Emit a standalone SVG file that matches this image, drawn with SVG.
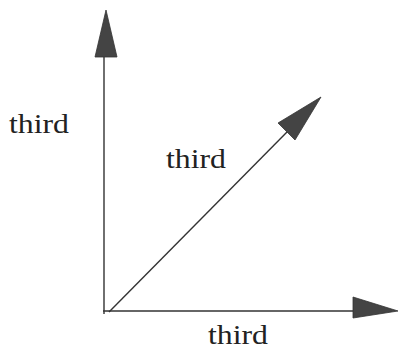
<svg xmlns="http://www.w3.org/2000/svg" width="399" height="351" viewBox="0 0 399 351">
<style>
.ax{stroke:#333;stroke-width:1.4;fill:none}
.hd{fill:#444;stroke:#333;stroke-width:0.8}
.lb{font-family:"Liberation Serif",serif;font-size:27px;fill:#222}
</style>
<rect width="399" height="351" fill="#fff"/>
<g id="connectors">
<line class="ax" x1="104" y1="314" x2="104" y2="55"/>
<polygon class="hd" points="106,10 117,57 95,57"/>
<line class="ax" x1="103" y1="311" x2="355" y2="311"/>
<polygon class="hd" points="398,311 353,297 353,318"/>
<line class="ax" x1="109" y1="312" x2="287" y2="132"/>
<polygon class="hd" points="321,97 278,123 295,140"/>
</g>
<g id="label-left"><text class="lb" x="9" y="133" textLength="60" lengthAdjust="spacingAndGlyphs">third</text></g>
<g id="label-diag"><text class="lb" x="166" y="168" textLength="60" lengthAdjust="spacingAndGlyphs">third</text></g>
<g id="label-bottom"><text class="lb" x="208" y="344" textLength="60" lengthAdjust="spacingAndGlyphs">third</text></g>
</svg>
